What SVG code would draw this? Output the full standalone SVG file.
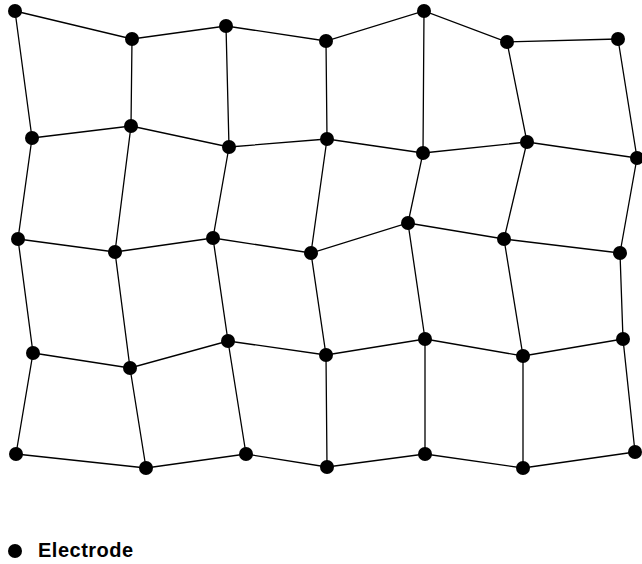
<svg xmlns="http://www.w3.org/2000/svg" width="642" height="564" viewBox="0 0 642 564">
<style>
.e{stroke:#000;stroke-width:1.3;fill:none}
.n{fill:#000}
.t{font-family:"Liberation Sans",Arial,sans-serif;font-weight:bold;font-size:20px;letter-spacing:0.5px;fill:#000}
</style>
<rect width="642" height="564" fill="#fff"/>
<g id="connectors" class="e">
<polyline points="15,11 132,39 226,26 326,41 424,11 507,42 618,39"/>
<polyline points="32,138 131,126 229,147 327,139 423,153 527,142 637,158"/>
<polyline points="18,239 115,252 213,238 311,253 408,223 504,239 620,253"/>
<polyline points="33,353 130,368 228,341 326,355 425,339 523,356 623,339"/>
<polyline points="16,454 146,468 246,454 327,467 425,454 523,468 635,452"/>
<polyline points="15,11 32,138 18,239 33,353 16,454"/>
<polyline points="132,39 131,126 115,252 130,368 146,468"/>
<polyline points="226,26 229,147 213,238 228,341 246,454"/>
<polyline points="326,41 327,139 311,253 326,355 327,467"/>
<polyline points="424,11 423,153 408,223 425,339 425,454"/>
<polyline points="507,42 527,142 504,239 523,356 523,468"/>
<polyline points="618,39 637,158 620,253 623,339 635,452"/>
</g>
<g id="nodes" class="n">
<circle id="n00" cx="15" cy="11" r="7"/><circle id="n01" cx="132" cy="39" r="7"/><circle id="n02" cx="226" cy="26" r="7"/><circle id="n03" cx="326" cy="41" r="7"/><circle id="n04" cx="424" cy="11" r="7"/><circle id="n05" cx="507" cy="42" r="7"/><circle id="n06" cx="618" cy="39" r="7"/>
<circle id="n10" cx="32" cy="138" r="7"/><circle id="n11" cx="131" cy="126" r="7"/><circle id="n12" cx="229" cy="147" r="7"/><circle id="n13" cx="327" cy="139" r="7"/><circle id="n14" cx="423" cy="153" r="7"/><circle id="n15" cx="527" cy="142" r="7"/><circle id="n16" cx="637" cy="158" r="7"/>
<circle id="n20" cx="18" cy="239" r="7"/><circle id="n21" cx="115" cy="252" r="7"/><circle id="n22" cx="213" cy="238" r="7"/><circle id="n23" cx="311" cy="253" r="7"/><circle id="n24" cx="408" cy="223" r="7"/><circle id="n25" cx="504" cy="239" r="7"/><circle id="n26" cx="620" cy="253" r="7"/>
<circle id="n30" cx="33" cy="353" r="7"/><circle id="n31" cx="130" cy="368" r="7"/><circle id="n32" cx="228" cy="341" r="7"/><circle id="n33" cx="326" cy="355" r="7"/><circle id="n34" cx="425" cy="339" r="7"/><circle id="n35" cx="523" cy="356" r="7"/><circle id="n36" cx="623" cy="339" r="7"/>
<circle id="n40" cx="16" cy="454" r="7"/><circle id="n41" cx="146" cy="468" r="7"/><circle id="n42" cx="246" cy="454" r="7"/><circle id="n43" cx="327" cy="467" r="7"/><circle id="n44" cx="425" cy="454" r="7"/><circle id="n45" cx="523" cy="468" r="7"/><circle id="n46" cx="635" cy="452" r="7"/>
</g>
<g id="legend">
<circle class="n" cx="15" cy="551" r="7"/>
<text class="t" x="38" y="557">Electrode</text>
</g>
</svg>
